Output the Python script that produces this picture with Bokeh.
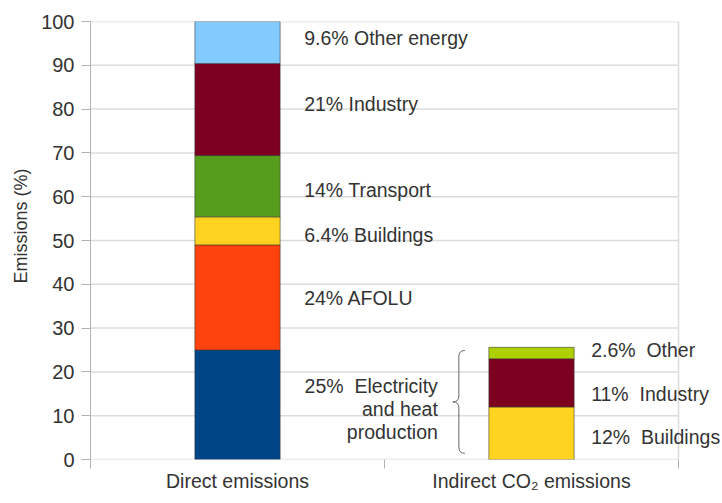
from bokeh.plotting import figure
from bokeh.models import Range1d, FixedTicker, ColumnDataSource, Title
from bokeh.core.properties import value
from bokeh.embed import file_html
from bokeh.resources import INLINE

# ---------------- data ----------------
categories = ["Direct emissions", "Indirect CO\u2082 emissions"]
direct_sectors = ["Electricity and heat production", "AFOLU", "Buildings", "Transport", "Industry", "Other energy"]
direct_values = [25, 24, 6.4, 14, 21, 9.6]
direct_labels = ["25%\u00a0 Electricity\nand heat\nproduction", "24% AFOLU", "6.4% Buildings",
                 "14% Transport", "21% Industry", "9.6% Other energy"]
indirect_sectors = ["Buildings", "Industry", "Other"]
indirect_values = [12, 11, 2.6]
indirect_labels = ["12%\u00a0 Buildings", "11%\u00a0 Industry", "2.6%\u00a0 Other"]
y_ticks = list(range(0, 101, 10))

# ---------------- style ----------------
direct_colors = ["#004586", "#ff420e", "#ffd320", "#579d1c", "#7e0021", "#83caff"]
indirect_colors = ["#ffd320", "#7e0021", "#aecf00"]
direct_label_dy = [4, 1, 4, 4, -6, -5]      # pixel nudges (down positive)
indirect_label_dy = [4, 11, -3]
FONT = "Liberation Sans"
TXT = "#333333"
GRID = "#dcdcdc"
AXIS = "#b3b3b3"
BAR_W = 0.29
PX = 294.0     # pixels per category unit
PY = 4.38      # pixels per percent

p = figure(width=722, height=503, x_range=Range1d(0, 2 + 44 / PX), y_range=Range1d(0, 100),
           output_backend="svg", toolbar_location=None,
           min_border_left=90, min_border_right=0, min_border_top=21, min_border_bottom=44)
p.grid.visible = False
p.outline_line_color = None
p.background_fill_color = "white"
p.border_fill_color = "white"

# grid lines (stop at the right plot border)
p.segment(x0=[0] * len(y_ticks), x1=[2] * len(y_ticks), y0=y_ticks, y1=y_ticks,
          line_color=GRID, line_width=1.5)
p.segment(x0=[2], x1=[2], y0=[0], y1=[100], line_color=GRID, line_width=1.5)

# stacked bars
def stack(xc, vals, cols):
    bottoms, tops, acc = [], [], 0.0
    for v in vals:
        bottoms.append(acc)
        acc += v
        tops.append(acc)
    src = ColumnDataSource(dict(x=[xc] * len(vals), bottom=bottoms, top=tops, color=cols,
                                mid=[(b + t) / 2 for b, t in zip(bottoms, tops)]))
    p.vbar(x="x", width=BAR_W, bottom="bottom", top="top", source=src,
           fill_color="color", line_color="#333333", line_alpha=0.55, line_width=1)
    return src

dsrc = stack(0.5, direct_values, direct_colors)
isrc = stack(1.5, indirect_values, indirect_colors)
dmid = dsrc.data["mid"]
imid = isrc.data["mid"]

LFS = "19.5px"
# direct labels (right of the direct bar)
p.text(x=[0.5 + BAR_W / 2] * 5, y=dmid[1:], text=direct_labels[1:],
       x_offset=24, y_offset=direct_label_dy[1:],
       text_font=value(FONT), text_font_size=LFS, text_color=TXT,
       text_align="left", text_baseline="middle")
# electricity label (left of the indirect bar, with brace)
p.text(x=[1.5 - BAR_W / 2], y=[dmid[0]], text=[direct_labels[0]],
       x_offset=-51, y_offset=[direct_label_dy[0]],
       text_font=value(FONT), text_font_size=LFS, text_color=TXT,
       text_align="right", text_baseline="middle", text_line_height=1.05)
# indirect labels
p.text(x=[1.5 + BAR_W / 2] * 3, y=imid, text=indirect_labels,
       x_offset=17, y_offset=indirect_label_dy,
       text_font=value(FONT), text_font_size=LFS, text_color=TXT,
       text_align="left", text_baseline="middle")

# brace spanning the 25% electricity share
bx = 1.5 - BAR_W / 2
x_end = bx - 24 / PX
x_mid = bx - 30 / PX
x_tip = bx - 36 / PX
top = direct_values[0] - 0.1
bot = 1.4
cen = (top + bot) / 2
h = 6 / PY
bcol = "#666666"
p.quadratic(x0=[x_end, x_mid, x_tip, x_mid], y0=[top, cen - h, cen, bot + h],
            x1=[x_mid, x_tip, x_mid, x_end], y1=[top - h, cen, cen + h, bot],
            cx=[x_mid, x_mid, x_mid, x_mid], cy=[top, cen, cen, bot],
            line_color=bcol, line_width=1)
p.segment(x0=[x_mid, x_mid], x1=[x_mid, x_mid], y0=[top - h, cen - h], y1=[cen + h, bot + h],
          line_color=bcol, line_width=1)

# axes
p.yaxis.ticker = FixedTicker(ticks=y_ticks)
p.yaxis.axis_line_color = AXIS
p.yaxis.major_tick_line_color = AXIS
p.yaxis.major_tick_out = 9
p.yaxis.major_tick_in = 0
p.yaxis.minor_tick_line_color = None
p.yaxis.major_label_standoff = 7
p.yaxis.major_label_text_font = FONT
p.yaxis.major_label_text_font_size = "20px"
p.yaxis.major_label_text_color = TXT

# y-axis title as a left-side title (allows shifting along the axis)
p.add_layout(Title(text="Emissions (%)", align="left", offset=176, standoff=16,
                   text_font=FONT, text_font_size="18px", text_font_style="normal",
                   text_color=TXT), "left")

p.xaxis.ticker = FixedTicker(ticks=[0.5, 1.5], minor_ticks=[0, 1, 2])
p.xaxis.major_label_overrides = {0.5: categories[0], 1.5: categories[1]}
p.xaxis.axis_line_color = None
p.xaxis.major_tick_line_color = None
p.xaxis.major_tick_out = 0
p.xaxis.major_tick_in = 0
p.xaxis.minor_tick_line_color = AXIS
p.xaxis.minor_tick_out = 9
p.xaxis.minor_tick_in = 0
p.xaxis.major_label_standoff = 1
p.xaxis.major_label_text_font = FONT
p.xaxis.major_label_text_font_size = "19.5px"
p.xaxis.major_label_text_color = TXT

open("out.html", "w").write(file_html(p, INLINE))
